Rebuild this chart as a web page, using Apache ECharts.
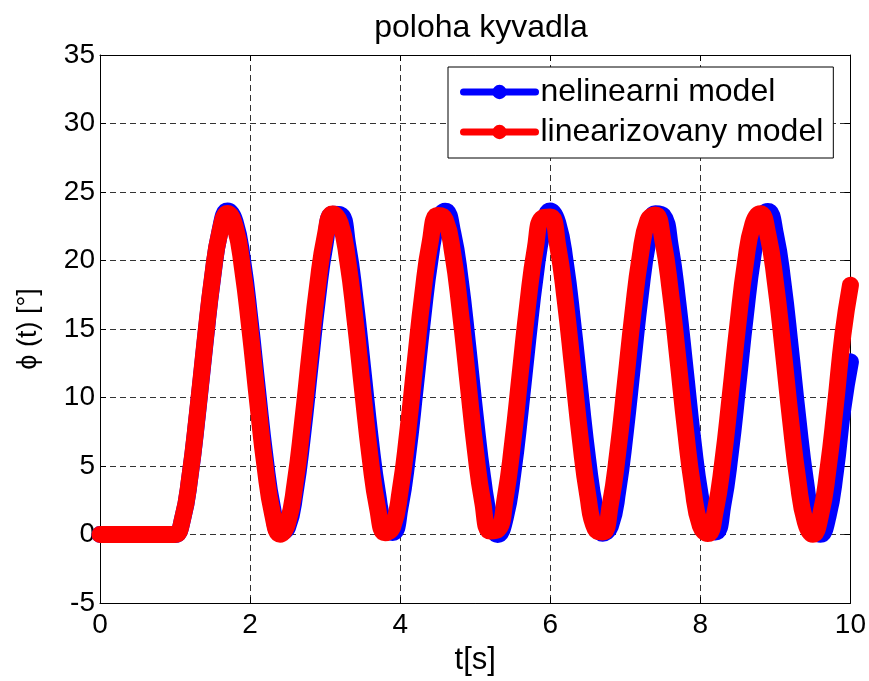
<!DOCTYPE html>
<html>
<head>
<meta charset="UTF-8"/>
<title>poloha kyvadla</title>
<script src="https://cdn.jsdelivr.net/npm/echarts@6/dist/echarts.min.js"></script>
<style>
  body { margin: 0; background: #fff; }
  #chart { width: 869px; height: 681px; }
</style>
</head>
<body>
<div id="chart"></div>
<script>
// values, one sample every 0.1 s from t = 0 to t = 10
var step = 0.1;
var nelinearni = [
  0, 0, 0, 0, 0, 0, 0, 0, 0, 0, 0,
  1.12, 4.27, 8.85, 13.99, 18.72, 22.16, 23.61, 22.83, 20.01, 15.60,
  10.48, 5.61, 1.93, 0.14, 0.52, 3.07, 7.27, 12.34, 17.30, 21.23,
  23.38, 23.34, 21.13, 17.12, 12.14, 7.07, 2.95, 0.46, 0.15, 2.04,
  5.79, 10.68, 15.79, 20.15, 22.92, 23.59, 22.03, 18.58, 13.79, 8.64,
  4.10, 1.03, 0.00, 1.21, 4.43, 9.05, 14.19, 18.88, 22.24, 23.62,
  22.75, 19.87, 15.40, 10.27, 5.44, 1.82, 0.09, 0.58, 3.21, 7.47,
  12.54, 17.49, 21.36, 23.42, 23.29, 21.00, 16.93, 11.93, 6.89, 2.82,
  0.41, 0.18, 2.16, 5.97, 10.89, 15.98, 20.30, 23.00, 23.57, 21.93,
  18.41, 13.59, 8.44, 3.95, 0.91, 0.01, 1.30, 4.59, 9.25, 12.6
];
var linearizovany = [
  0, 0, 0, 0, 0, 0, 0, 0, 0, 0, 0,
  1.14, 4.33, 8.95, 14.11, 18.81, 22.14, 23.43, 22.46, 19.38, 14.87,
  9.73, 4.94, 1.49, 0.02, 0.83, 3.74, 8.21, 13.34, 18.17, 21.76,
  23.39, 22.73, 20.00, 15.62, 10.49, 5.59, 1.90, 0.13, 0.56, 3.18,
  7.45, 12.56, 17.50, 21.34, 23.28, 22.98, 20.53, 16.34, 11.28, 6.27,
  2.36, 0.25, 0.35, 2.66, 6.73, 11.77, 16.81, 20.86, 23.12, 23.18,
  21.05, 17.06, 12.07, 6.99, 2.86, 0.41, 0.18, 2.18, 6.03, 10.99,
  16.08, 20.34, 22.91, 23.32, 21.49, 17.74, 12.85, 7.73, 3.39, 0.63,
  0.07, 1.75, 5.35, 10.20, 15.34, 19.79, 22.65, 23.41, 21.89, 18.41,
  13.63, 8.47, 3.94, 0.89, 0.01, 1.36, 4.72, 9.44, 14.61, 18.2
];
var names = ['nelinearni model', 'linearizovany model'];

function pairs(arr) {
  var out = [];
  for (var i = 0; i < arr.length; i++) {
    out.push([+(i * step).toFixed(2), arr[i]]);
  }
  return out;
}

var font = '"Liberation Sans", Arial, sans-serif';
var chart = echarts.init(document.getElementById('chart'));

var gridLine = { show: true, lineStyle: { color: '#333', width: 1, type: [6, 4] } };
var boxLine = { show: true, onZero: false, lineStyle: { color: '#000', width: 1 } };
var tick = { show: true, inside: true, length: 6, lineStyle: { color: '#000' } };

var option = {
  animation: false,
  backgroundColor: '#fff',
  title: {
    text: 'poloha kyvadla',
    left: 476,
    textAlign: 'center',
    top: 7,
    textStyle: { fontFamily: font, fontSize: 32, fontWeight: 'normal', color: '#000' }
  },
  legend: {
    data: names,
    orient: 'vertical',
    left: 448,
    top: 67,
    padding: [9, 10, 10, 12],
    itemGap: 8,
    itemWidth: 72,
    itemHeight: 18,
    backgroundColor: '#fff',
    borderColor: '#000',
    borderWidth: 1,
    lineStyle: { width: 7 },
    textStyle: { fontFamily: font, fontSize: 32, color: '#000', lineHeight: 31 }
  },
  grid: { left: 100, right: 16, top: 55, bottom: 67, containLabel: false },
  xAxis: [{
    type: 'value', min: 0, max: 10, interval: 2, position: 'bottom',
    axisLine: boxLine, axisTick: tick, splitLine: gridLine,
    axisLabel: { fontFamily: font, fontSize: 28, color: '#000', margin: 8 },
    name: 't[s]', nameLocation: 'middle', nameGap: 42,
    nameTextStyle: { fontFamily: font, fontSize: 31, color: '#000' }
  }, {
    type: 'value', min: 0, max: 10, interval: 2, position: 'top',
    axisLine: boxLine, axisTick: tick, splitLine: { show: false },
    axisLabel: { show: false }
  }],
  yAxis: [{
    type: 'value', min: -5, max: 35, interval: 5, position: 'left',
    axisLine: boxLine, axisTick: tick, splitLine: gridLine,
    axisLabel: { fontFamily: font, fontSize: 28, color: '#000', margin: 5 },
    name: 'ϕ (t) [°]', nameLocation: 'middle', nameGap: 58,
    nameTextStyle: { fontFamily: font, fontSize: 27, color: '#000' }
  }, {
    type: 'value', min: -5, max: 35, interval: 5, position: 'right',
    axisLine: boxLine, axisTick: tick, splitLine: { show: false },
    axisLabel: { show: false }
  }],
  series: [{
    name: names[0],
    type: 'line',
    data: pairs(nelinearni),
    smooth: true,
    symbol: 'circle',
    symbolSize: 16,
    showSymbol: false,
    color: '#0000ff',
    lineStyle: { width: 17, cap: 'round', join: 'round' }
  }, {
    name: names[1],
    type: 'line',
    data: pairs(linearizovany),
    smooth: true,
    symbol: 'circle',
    symbolSize: 16,
    showSymbol: false,
    color: '#ff0000',
    lineStyle: { width: 17, cap: 'round', join: 'round' }
  }]
};

chart.setOption(option);
</script>
</body>
</html>
